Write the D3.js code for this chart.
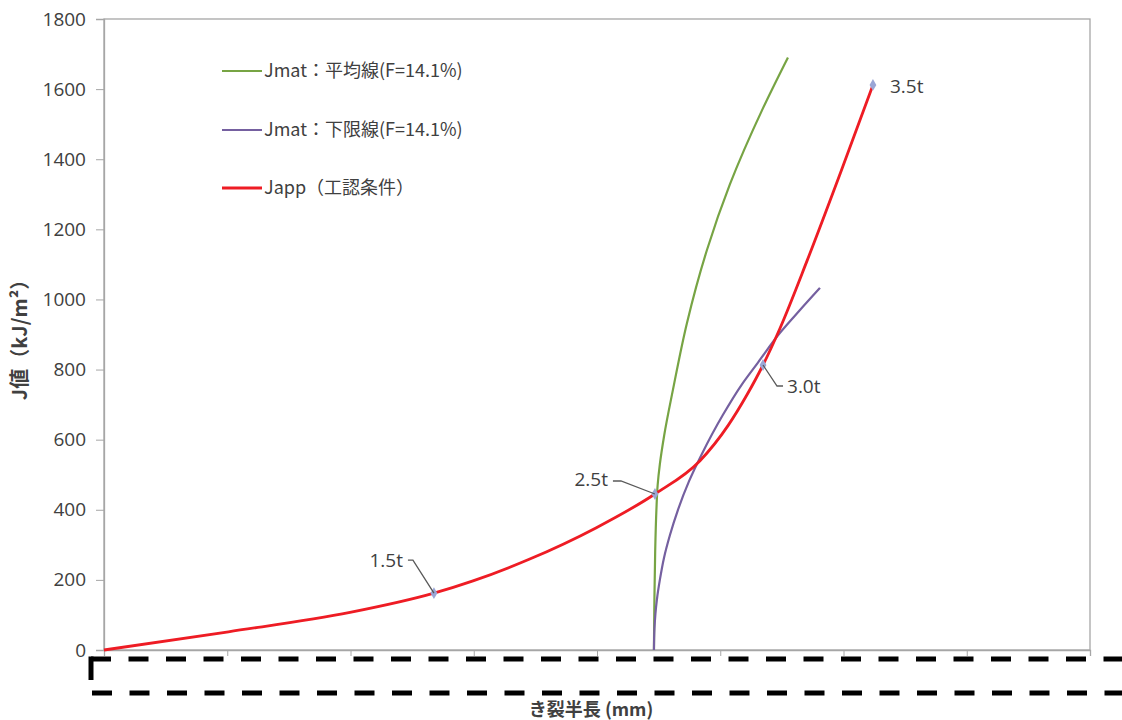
<!DOCTYPE html>
<html><head><meta charset="utf-8">
<script src="https://cdn.jsdelivr.net/npm/d3@7"></script>
<style>html,body{margin:0;padding:0;background:#fff;overflow:hidden}</style>
</head><body>
<svg id="c" width="1122" height="720"></svg>
<script>
// ---- data ----
const yTicks = [0, 200, 400, 600, 800, 1000, 1200, 1400, 1600, 1800];
const xTicks = [0, 10, 20, 30, 40, 50, 60, 70, 80];
const seriesNames = ["Jmat：平均線(F=14.1%)", "Jmat：下限線(F=14.1%)", "Japp（工認条件）"];
// Jmat mean line [crack half length, J]
const jmatMean = [[44.62,0],[44.66,150],[44.72,280],[44.82,400],[44.92,470],[45.1,530],[45.45,612],[46.16,742],[47.3,933],[48.92,1141],[50.78,1328],[53.46,1545],[55.49,1690]];
// Jmat lower-bound line
const jmatLower = [[44.62,0],[44.66,60],[44.74,103],[44.86,144],[45.11,202],[45.43,262],[45.92,328],[46.57,400],[47.46,481],[48.52,560],[50.22,671],[51.76,758],[53.06,820],[54.85,905],[56.47,970],[58.09,1033]];
// Japp line
const japp = [[0,0],[10.1,52],[19.96,107],[26.77,162],[29.94,197],[34.45,258],[39.95,349],[44.7,445],[48.36,540],[50.63,640],[52.17,728],[53.47,813],[54.85,918],[57.04,1110],[59.72,1358],[62.39,1612]];
// marked points on Japp
const markLabels = ["1.5t", "2.5t", "3.0t", "3.5t"];
const markX = [26.77, 44.7, 53.47, 62.39];
const markY = [162, 445, 813, 1612];

// ---- layout ----
const L = 104, R = 1090, T = 19, B = 650;
const svg = d3.select("#c");
const x = d3.scaleLinear().domain([0, 80]).range([L, R]);
const y = d3.scaleLinear().domain([0, 1800]).range([B, T]);
const colors = ["#77a444", "#7560a0", "#ee1c24"];
const font = "'Noto Sans CJK JP','Noto Sans',sans-serif";
const numFont = "'Open Sans','Noto Sans',sans-serif";

// frame
svg.append("rect").attr("x", L).attr("y", T).attr("width", R - L).attr("height", B - T)
  .attr("fill", "none").attr("stroke", "#a6a6a6").attr("stroke-width", 1.3);

// y axis
const yAxis = svg.append("g").attr("transform", `translate(${L},0)`)
  .call(d3.axisLeft(y).tickValues(yTicks).tickSize(8).tickPadding(10).tickFormat(d3.format("d")));
yAxis.select(".domain").attr("stroke", "#a6a6a6").attr("stroke-width", 1.3);
yAxis.selectAll(".tick line").attr("stroke", "#a6a6a6");
yAxis.selectAll(".tick text").attr("font-family", numFont)
  .attr("font-size", 19).attr("fill", "#404040");

// x axis (labels hidden under mask)
const xAxis = svg.append("g").attr("transform", `translate(0,${B})`)
  .call(d3.axisBottom(x).tickValues(xTicks).tickSize(6).tickFormat(""));
xAxis.select(".domain").attr("stroke", "#a6a6a6").attr("stroke-width", 1.3);
xAxis.selectAll(".tick line").attr("stroke", "#a6a6a6");

// lines
const lineY = d3.line().x(d => x(d[0])).y(d => y(d[1])).curve(d3.curveMonotoneY);
const lineX = d3.line().x(d => x(d[0])).y(d => y(d[1])).curve(d3.curveMonotoneX);
[jmatMean, jmatLower, japp].forEach((s, i) => {
  svg.append("path").datum(s).attr("d", i === 2 ? lineX : lineY).attr("fill", "none")
    .attr("stroke", colors[i]).attr("stroke-width", i === 2 ? 2.8 : 2.2)
    .attr("stroke-linejoin", "round");
});

// markers
const sym = d3.symbol().type(d3.symbolDiamond).size(40);
markX.forEach((mx, i) => {
  svg.append("path").attr("d", sym)
    .attr("transform", `translate(${x(mx)},${y(markY[i])})`)
    .attr("fill", "#9aa6d6");
});

// leader lines & labels (pixel offsets from marker)
const leaders = [
  [[-26, -33], [-21, -33], [0, 0]],
  [[-42, -13], [-34, -13], [0, 0]],
  [[20, 21], [14, 21], [0, 0]],
  null
];
const labelOff = [[-31, -33, "end"], [-47, -15, "end"], [24, 21, "start"], [17, 1, "start"]];
markX.forEach((mx, i) => {
  const px = x(mx), py = y(markY[i]);
  if (leaders[i]) {
    svg.append("path").attr("d", d3.line()(leaders[i].map(p => [px + p[0], py + p[1]])))
      .attr("fill", "none").attr("stroke", "#595959").attr("stroke-width", 1.3);
  }
  svg.append("text").attr("x", px + labelOff[i][0]).attr("y", py + labelOff[i][1])
    .attr("dy", "0.35em").attr("text-anchor", labelOff[i][2])
    .attr("font-family", numFont).attr("font-size", 19)
    .attr("fill", "#404040").text(markLabels[i]);
});

// legend
const legY = [71, 130, 188];
seriesNames.forEach((n, i) => {
  svg.append("line").attr("x1", 222).attr("x2", 262).attr("y1", legY[i]).attr("y2", legY[i])
    .attr("stroke", colors[i]).attr("stroke-width", i === 2 ? 2.8 : 2.2);
  svg.append("text").attr("x", 264).attr("y", legY[i]).attr("dy", "0.36em")
    .attr("font-family", font).attr("font-size", 18).attr("fill", "#404040").text(n);
});

// axis titles
svg.append("text").attr("transform", "translate(27,335) rotate(-90)")
  .attr("text-anchor", "middle").attr("font-family", font).attr("font-weight", "bold")
  .attr("font-size", 20).attr("fill", "#404040").text("J値（kJ/m²）");
svg.append("text").attr("x", 591).attr("y", 716).attr("text-anchor", "middle")
  .attr("font-family", font).attr("font-weight", "bold").attr("font-size", 18)
  .attr("fill", "#404040").text("き裂半長 (mm)");

// dashed mask box
const mask = svg.append("g").attr("stroke", "#000").attr("stroke-width", 5).attr("fill", "none");
mask.append("line").attr("x1", 91).attr("x2", 1122).attr("y1", 659).attr("y2", 659)
  .attr("stroke-dasharray", "20 17.5");
mask.append("line").attr("x1", 92).attr("x2", 1122).attr("y1", 693).attr("y2", 693)
  .attr("stroke-dasharray", "20 17.5");
mask.append("line").attr("x1", 91).attr("x2", 91).attr("y1", 656.5).attr("y2", 680);
</script>
</body></html>
